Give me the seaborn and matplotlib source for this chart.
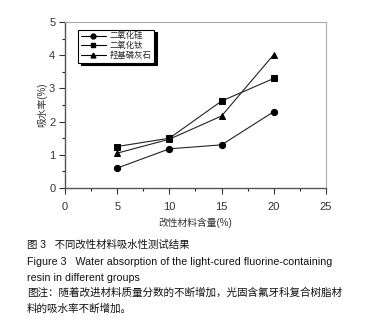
import matplotlib
matplotlib.use("Agg")
import matplotlib.pyplot as plt
import seaborn as sns
import pandas as pd
from matplotlib.ticker import MultipleLocator
from matplotlib.lines import Line2D

content = [5, 10, 15, 20]
sio2 = [0.60, 1.18, 1.30, 2.30]
tio2 = [1.25, 1.50, 2.62, 3.30]
ha = [1.05, 1.47, 2.17, 4.02]
series_names = ["二氧化硅", "二氧化钛", "羟基磷灰石"]
x_ticks = [0, 5, 10, 15, 20, 25]
y_ticks = [0, 1, 2, 3, 4, 5]

rows = []
for name, vals in zip(series_names, [sio2, tio2, ha]):
    for x, v in zip(content, vals):
        rows.append({"x": x, "y": v, "s": name})
df = pd.DataFrame(rows)

sns.set_style("white")
plt.rcParams["font.family"] = ["Liberation Sans", "Noto Sans CJK SC"]

fig = plt.figure(figsize=(3.7, 3.29), dpi=100)
ax = fig.add_axes([0.1757, 0.4286, 0.881 - 0.1757, 0.933 - 0.4286])

sns.lineplot(data=df, x="x", y="y", hue="s", style="s",
             palette=["#222222"] * 3,
             markers={"二氧化硅": "o", "二氧化钛": "s", "羟基磷灰石": "^"},
             dashes=False, linewidth=0.8, markersize=4.5,
             markeredgecolor="black", markerfacecolor="black",
             ax=ax, legend=False)

ax.set_xlim(0, 25)
ax.set_ylim(0, 5)
ax.set_xticks(x_ticks)
ax.set_yticks(y_ticks)
ax.xaxis.set_minor_locator(MultipleLocator(2.5))
ax.yaxis.set_minor_locator(MultipleLocator(0.5))
ax.tick_params(axis="both", which="major", direction="out", length=4,
               width=0.8, labelsize=8, colors="#333333", pad=3,
               bottom=True, left=True)
ax.tick_params(axis="x", which="major", pad=6)
ax.tick_params(axis="both", which="minor", direction="out", length=2,
               width=0.8, bottom=True, left=True)
for side in ["left", "bottom"]:
    ax.spines[side].set_color("#555555")
    ax.spines[side].set_linewidth(1.0)
for side in ["top", "right"]:
    ax.spines[side].set_color("#aaaaaa")
    ax.spines[side].set_linewidth(0.8)

ax.set_xlabel("改性材料含量(%)", fontsize=7, color="#333333", labelpad=4)
ax.set_ylabel("吸水率(%)", fontsize=7, color="#333333", labelpad=1)

handles = [Line2D([], [], color="black", lw=0.8, marker=m, markersize=3.5)
           for m in ["o", "s", "^"]]
leg = ax.legend(handles, series_names, loc="upper left",
                bbox_to_anchor=(0.05, 0.955), fontsize=6,
                frameon=True, fancybox=False, shadow={"color": "black", "alpha": 1},
                edgecolor="black", framealpha=1, handlelength=3,
                borderpad=0.3, labelspacing=0.15, handletextpad=0.5,
                borderaxespad=0)
leg.get_frame().set_linewidth(0.8)

cap_x = 0.073
fig.text(cap_x, 1 - 245 / 329, "图 3   不同改性材料吸水性测试结果", fontsize=7.5,
         va="center", ha="left", color="#111111")
fig.text(cap_x, 1 - 262 / 329,
         "Figure 3   Water absorption of the light-cured fluorine-containing",
         fontsize=7.7, va="center", ha="left", color="#111111")
fig.text(cap_x, 1 - 278 / 329, "resin in different groups", fontsize=7.7,
         va="center", ha="left", color="#111111")
fig.text(cap_x, 1 - 293 / 329,
         "图注：随着改进材料质量分数的不断增加，光固含氟牙科复合树脂材",
         fontsize=7.6, va="center", ha="left", color="#111111")
fig.text(cap_x, 1 - 309 / 329, "料的吸水率不断增加。", fontsize=7.6,
         va="center", ha="left", color="#111111")

fig.savefig("out.png", dpi=100, facecolor="white")
